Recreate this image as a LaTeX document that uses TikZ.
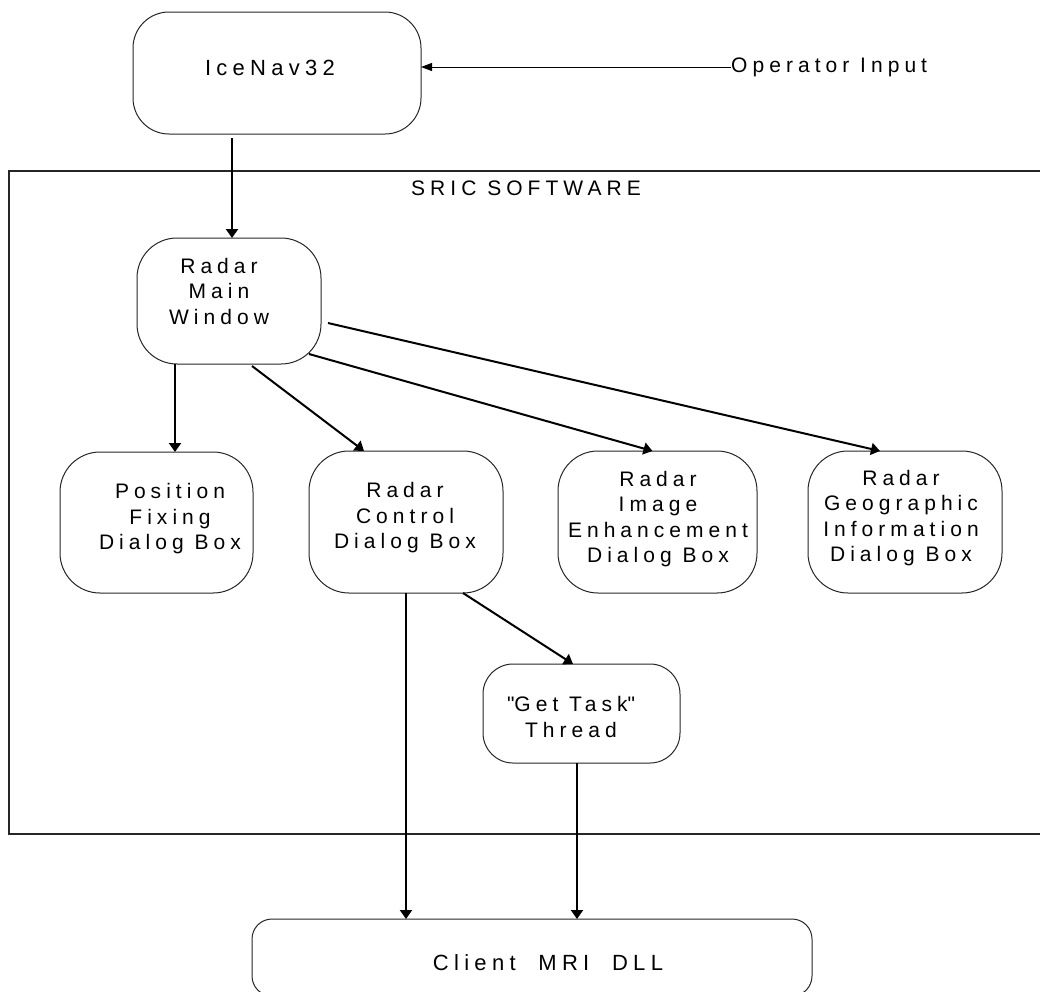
\documentclass[tikz,border=0pt]{standalone}
\usepackage{fontspec}
\setmainfont{Liberation Sans}[LetterSpace=24]
\usetikzlibrary{arrows.meta}
\begin{document}
\begin{tikzpicture}[x=1pt,y=-1pt,
  box/.style={draw=black!85, line width=1pt, rounded corners=#1, inner sep=0pt, outer sep=0pt},
  lbl/.style={align=center, font=\fontsize{21}{25.5}\selectfont, inner sep=0pt},
  arr/.style={line width=2pt, -{Triangle[length=9pt,width=12pt]}},
  thinarr/.style={line width=1pt, -{Triangle[length=11pt,width=8pt]}},
]
\useasboundingbox (0,0) rectangle (1040,991);
\clip (0,0) rectangle (1040,991);
% frame
\draw[line width=1.5pt, black!85] (1050,171) -- (9,171) -- (9,834) -- (1050,834);
\node[lbl] (sric) at (526,188) {SRIC SOFTWARE};
% boxes
\node[box=36pt, minimum width=288pt, minimum height=122pt] (icenav) at (277,73) {};
\node[lbl, font=\fontsize{22}{26}\selectfont] (ticenav) at (270,68) {IceNav32};
\node[lbl, anchor=west] (op) at (731,67) {Operator Input};

\node[box=40pt, minimum width=184pt, minimum height=126pt] (rmw) at (229,301) {};
\node[lbl] (trmw) at (219,291) {Radar\\Main\\Window};

\node[box=40pt, minimum width=193pt, minimum height=141pt] (pf) at (156.5,522.5) {};
\node[lbl] (tpf) at (170,519) {Position\\Fixing\\Dialog Box};

\node[box=40pt, minimum width=194pt, minimum height=142pt] (rc) at (406,522) {};
\node[lbl] (trc) at (405,518) {Radar\\Control\\Dialog Box};

\node[box=40pt, minimum width=199pt, minimum height=142pt] (rie) at (657.5,522) {};
\node[lbl] (trie) at (658,519) {Radar\\Image\\Enhancement\\Dialog Box};

\node[box=40pt, minimum width=194pt, minimum height=142pt] (rg) at (905,522) {};
\node[lbl] (trg) at (901,518) {Radar\\Geographic\\Information\\Dialog Box};

\node[box=30pt, minimum width=197pt, minimum height=99pt] (gt) at (581.5,713.5) {};
\node[lbl] (tgt) at (571,717) {\textquotedbl Get Task\textquotedbl\\Thread};

\node[box=20pt, minimum width=560pt, minimum height=77pt] (client) at (532,957.5) {};
\node[lbl, font=\fontsize{22}{26}\selectfont] (tclient) at (548,963) {Client\ \ MRI\ \ DLL};

% connectors
\draw[thinarr] (op.west) -- (icenav.east |- op.west);
\draw[arr] ([xshift=-45pt,yshift=-4pt]icenav.south) -- ([xshift=3pt]rmw.north);
\draw[arr] ([xshift=18.5pt]pf.north |- rmw.south) -- ([xshift=18.5pt]pf.north);
\draw[arr] ([xshift=23pt,yshift=-2pt]rmw.south) -- ([xshift=-42pt]rc.north);
\draw[arr] ([shift={(-12,-10)}]rmw.south east) -- ([xshift=-5pt]rie.north);
\draw[arr] ([shift={(7,22)}]rmw.east) -- ([xshift=-25pt]rg.north);
\draw[arr] (rc.south) -- (rc.south |- client.north);
\draw[arr] ([xshift=57pt]rc.south) -- ([xshift=-8.5pt]gt.north);
\draw[arr] ([xshift=-4.5pt]gt.south) -- ([xshift=-4.5pt]gt.south |- client.north);
\end{tikzpicture}
\end{document}
